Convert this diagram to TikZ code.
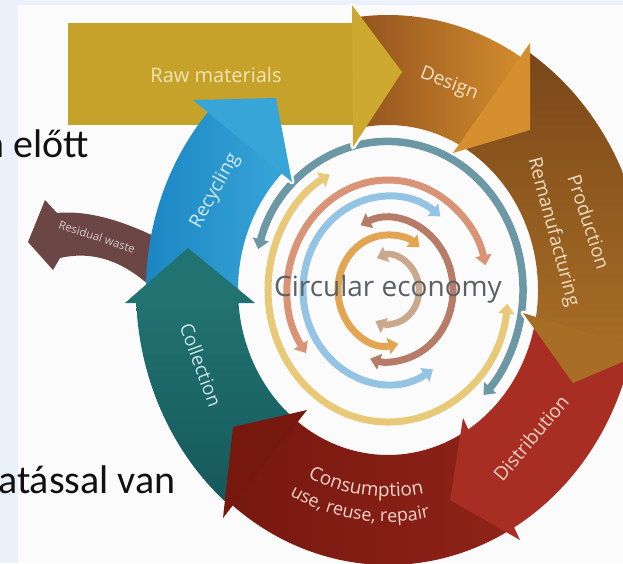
\documentclass[tikz,border=0pt]{standalone}
\usepackage{fontspec}
\newfontfamily\labfont{Open Sans}
\newfontfamily\slidefont{Carlito}
\usetikzlibrary{arrows.meta,decorations.text}
\definecolor{bgblue}{HTML}{EAF1FA}
\definecolor{imgwhite}{HTML}{FBFBFB}
\definecolor{slidetext}{HTML}{111111}
\definecolor{rteal}{HTML}{6C97A4}
\definecolor{ryellow}{HTML}{E7C977}
\definecolor{rsalmon}{HTML}{D99478}
\definecolor{rblue}{HTML}{94C4E4}
\definecolor{rrose}{HTML}{B67C68}
\definecolor{rorange}{HTML}{E2A552}
\definecolor{rbeige}{HTML}{C9A88E}
\definecolor{rawcol}{HTML}{C6A22B}
\definecolor{rawhead}{HTML}{CDA92F}
\definecolor{designL}{HTML}{93541F}
\definecolor{designR}{HTML}{D38D2D}
\definecolor{designhead}{HTML}{D58F2E}
\definecolor{prodT}{HTML}{7A4719}
\definecolor{prodB}{HTML}{A86E26}
\definecolor{distcol}{HTML}{A82E23}
\definecolor{consL}{HTML}{77180F}
\definecolor{consR}{HTML}{8E2319}
\definecolor{collT}{HTML}{217371}
\definecolor{collB}{HTML}{16585C}
\definecolor{recyL}{HTML}{1B86C2}
\definecolor{recyR}{HTML}{38A5D8}
\definecolor{residcol}{HTML}{6C4645}
\definecolor{rawtext}{HTML}{F1E5B3}
\definecolor{designtext}{HTML}{F7E2C0}
\definecolor{prodtext}{HTML}{F0DCC0}
\definecolor{disttext}{HTML}{F2D2C4}
\definecolor{constext}{HTML}{F4D4CB}
\definecolor{colltext}{HTML}{C6E3E2}
\definecolor{recytext}{HTML}{D2ECF7}
\definecolor{residtext}{HTML}{D6CBCB}
\definecolor{circtext}{HTML}{5C6064}
\tikzset{
  ring/.style={line width=7pt, {Triangle[width=16pt,length=10pt]}-{Triangle[width=16pt,length=10pt]}},
  halo/.style={draw=imgwhite, line width=5pt, line join=round},
  ringframe/.style={shift={(388,290)}, yscale=1.1},
  lab/.style={font=\labfont\fontsize{19}{19}\selectfont, inner sep=0pt},
  slide/.style={anchor=base west, inner sep=0pt, font=\slidefont\fontsize{40}{40}\selectfont, text=slidetext},
}
\begin{document}
\begin{tikzpicture}[x=1pt,y=-1pt]
\useasboundingbox (0,0) rectangle (623,563);
\clip (0,0) rectangle (623,563);
\fill[bgblue] (0,0) rectangle (623,563);
\fill[imgwhite] (18,5) rectangle (623,563);

% inner rings
\begin{scope}[ringframe]
  \draw[ring, rteal, line width=7.5pt] (196:135) arc[start angle=196, end angle=405, radius=135];
  \draw[ring, ryellow] (6:120) arc[start angle=6, end angle=241, radius=120];
  \draw[ring, rsalmon] (145:100) arc[start angle=145, end angle=347, radius=100];
  \draw[ring, rblue] (58:85) arc[start angle=58, end angle=308, radius=85];
  \draw[ring, rrose] (245:65) arc[start angle=245, end angle=466, radius=65];
  \draw[ring, rorange] (78:50) arc[start angle=78, end angle=309, radius=50];
  \draw[ring, rbeige, line width=6.5pt] (249:31) arc[start angle=249, end angle=474, radius=31];
\end{scope}

% residual waste arrow
\fill[residcol] (158,238) .. controls (125,222) and (90,210) .. (57,213) -- (45,200) -- (28,242) -- (53,270) -- (60,258) .. controls (95,250) and (128,262) .. (160,296) -- cycle;

% white halos of the arrow heads
\draw[halo] (352,5) -- (402,72) -- (353,147) -- cycle;
\draw[halo] (453,153) -- (530,130) -- (530,43) -- cycle;
\draw[halo] (523,313) -- (573,383) -- (648,351) -- cycle;
\draw[halo] (463,418) -- (450,500) -- (520,540) -- cycle;
\draw[halo] (307,410) -- (233,427) -- (223,518) -- cycle;
\draw[halo] (255,303) -- (188,248) -- (125,303) -- cycle;
\draw[halo] (292,182) -- (276,98) -- (193,100) -- cycle;

% Design body
\begin{scope}[ringframe]
  \shade[left color=designL, right color=designR] (261:150) arc[start angle=261, end angle=299, radius=150] -- (303:250) arc[start angle=303, end angle=263, radius=250] -- cycle;
\end{scope}
% Raw materials
\fill[rawcol] (68,23) rectangle (354,125);
\fill[rawhead] (352,5) -- (402,72) -- (353,147) -- cycle;
% Production body
\begin{scope}[ringframe]
  \shade[top color=prodT, bottom color=prodB] (299:150) arc[start angle=299, end angle=370, radius=150] -- (372.7:258) arc[start angle=372.7, end angle=303, radius=258] -- cycle;
\end{scope}
\fill[designhead] (453,153) -- (530,130) -- (530,43) -- cycle;
% Distribution body
\begin{scope}[ringframe]
  \fill[distcol] (10.5:150) arc[start angle=10.5, end angle=58.3, radius=150] -- (60.8:250) arc[start angle=60.8, end angle=13, radius=250] -- cycle;
\end{scope}
\fill[prodB] (523,313) -- (573,383) -- (648,351) -- cycle;
% Consumption body
\begin{scope}[ringframe]
  \shade[left color=consL, right color=consR] (58.7:150) arc[start angle=58.7, end angle=127.6, radius=150] -- (129.5:250) arc[start angle=129.5, end angle=60.9, radius=250] -- cycle;
\end{scope}
\fill[distcol] (463,418) -- (450,500) -- (520,540) -- cycle;
% Collection body
\begin{scope}[ringframe]
  \shade[top color=collT, bottom color=collB] (128.6:150) arc[start angle=128.6, end angle=176.5, radius=150] -- (178.6:252) arc[start angle=178.6, end angle=130, radius=252] -- cycle;
\end{scope}
\fill[consL] (307,410) -- (233,427) -- (223,518) -- cycle;
% Recycling body
\begin{scope}[ringframe]
  \shade[left color=recyL, right color=recyR] (176.8:150) arc[start angle=176.8, end angle=226.3, radius=150] -- (223.5:242) arc[start angle=223.5, end angle=179, radius=242] -- cycle;
\end{scope}
\fill[collT] (255,303) -- (188,248) -- (125,303) -- cycle;
\fill[recyR] (292,182) -- (276,98) -- (193,100) -- cycle;

% labels
\node[lab, text=rawtext, font=\labfont\fontsize{20}{20}\selectfont] (rawlab) at (216,75) {Raw materials};
\node[lab, text=designtext, rotate=-21] (designlab) at (449,84) {Design};
\node[lab, text=prodtext, rotate=-72] (prodlab) at (589,222) {Production};
\node[lab, text=prodtext, rotate=-75] (remanlab) at (553,232) {Remanufacturing};
\node[lab, text=disttext, rotate=50] (distlab) at (531,438) {Distribution};
\node[lab, text=colltext, rotate=-70] (colllab) at (201,365) {Collection};
\node[lab, text=recytext, rotate=61] (recylab) at (215,191) {Recycling};
\node[text=residtext, font=\labfont\fontsize{11.5}{11.5}\selectfont, rotate=-18, inner sep=0pt] (residlab) at (97,237) {Residual waste};
\node[text=circtext, font=\labfont\fontsize{28}{28}\selectfont, inner sep=0pt] (circlab) at (388,289) {Circular economy};

\path[decorate, decoration={text along path, text align=center, text={|\labfont\fontsize{19}{19}\selectfont\color{constext}|Consumption}}] (388,290) ++(130:188 and 206.8) arc[start angle=130, end angle=64, x radius=188, y radius=206.8];
\path[decorate, decoration={text along path, text align=center, text={|\labfont\fontsize{18}{18}\selectfont\color{constext}|use, reuse, repair}}] (388,290) ++(133:211 and 232.1) arc[start angle=133, end angle=63, x radius=211, y radius=232.1];

% slide text
\node[slide] (slide1) at (-17,157) {n előtt};
\node[slide] (slide2) at (-2,493) {atással van};
\end{tikzpicture}
\end{document}
